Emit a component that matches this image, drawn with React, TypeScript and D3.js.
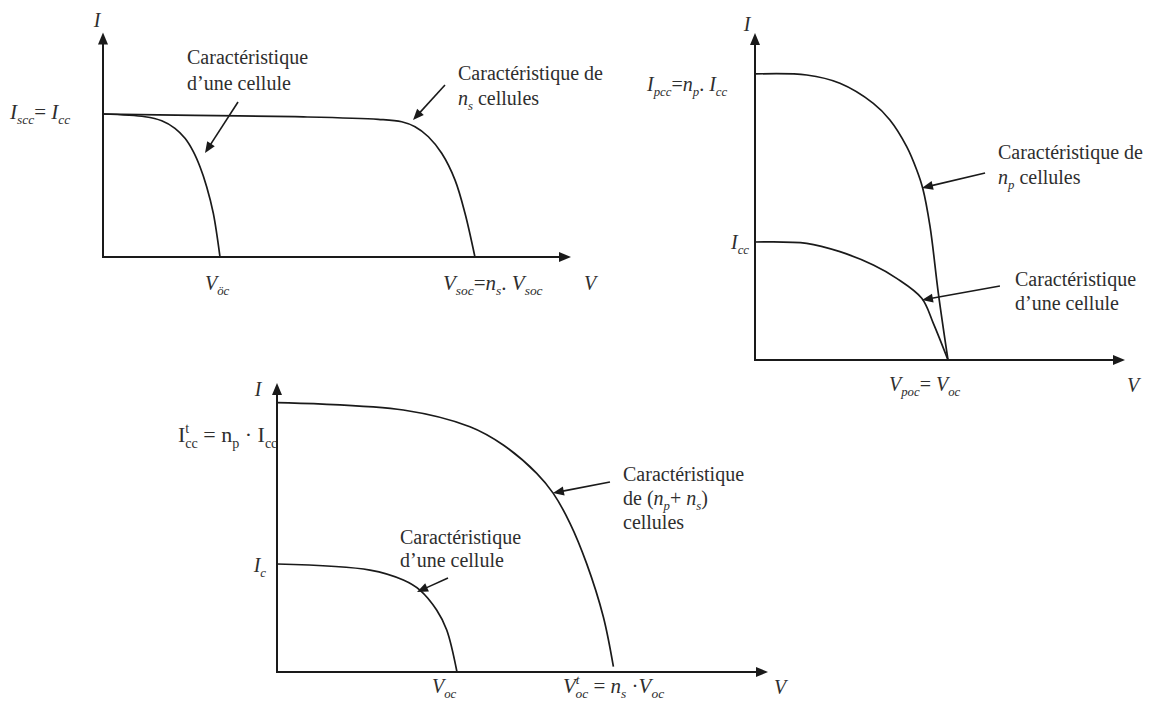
import React from 'react';
import * as d3 from 'd3';

type Pt = [number, number];

// I-V characteristics, voltage in units of Voc of one cell, current in units of Icc of one cell

// Cells in series (top left)
const seriesCell: Pt[] = [
  [0, 1.0], [0.359, 0.981], [0.502, 0.953], [0.615, 0.9], [0.701, 0.83],
  [0.772, 0.737], [0.829, 0.631], [0.886, 0.492], [0.943, 0.305], [1.0, 0.0],
];
const seriesString: Pt[] = [
  [0, 1.0], [0.786, 0.991], [1.641, 0.981], [2.353, 0.963], [2.553, 0.946],
  [2.667, 0.911], [2.781, 0.841], [2.895, 0.725], [3.009, 0.538], [3.094, 0.306], [3.179, 0.0],
];

// Cells in parallel (top right)
const parallelCell: Pt[] = [
  [0, 1.0], [0.268, 0.989], [0.44, 0.918], [0.613, 0.805], [0.734, 0.692],
  [0.864, 0.523], [0.924, 0.311], [1.0, 0.0],
];
const parallelBank: Pt[] = [
  [0, 2.424], [0.268, 2.415], [0.44, 2.345], [0.613, 2.175], [0.699, 2.034],
  [0.786, 1.808], [0.838, 1.61], [0.869, 1.455], [0.907, 1.13], [0.95, 0.565], [1.0, 0.0],
];

// Mixed series/parallel array (bottom)
const mixedCell: Pt[] = [
  [0, 1.0], [0.517, 0.944], [0.702, 0.852], [0.794, 0.759], [0.887, 0.574],
  [0.943, 0.389], [1.0, 0.0],
];
const mixedArray: Pt[] = [
  [0, 2.494], [0.702, 2.426], [1.072, 2.271], [1.257, 2.102], [1.443, 1.84],
  [1.535, 1.654], [1.628, 1.377], [1.72, 1.006], [1.813, 0.512], [1.869, 0.05],
];

// Pointer arrows for the captions: [from, to] in data units
const seriesPointers: [Pt, Pt][] = [
  [[1.154, 1.084], [0.872, 0.727]],
  [[2.923, 1.203], [2.65, 0.958]],
];
const parallelPointers: [Pt, Pt][] = [
  [[1.192, 1.585], [0.865, 1.458]],
  [[1.269, 0.627], [0.865, 0.508]],
];
const mixedPointers: [Pt, Pt][] = [
  [[1.85, 1.759], [1.533, 1.657]],
  [[0.95, 0.87], [0.778, 0.741]],
];

type Seg = { t: string; s?: 'sub' | 'sup'; i?: boolean; dx?: number };

const FONT = '"Liberation Serif", "Times New Roman", Times, serif';
const INK = '#1a1a1a';
const TXT = '#2e2e2e';

function Label({ x, y, segs, size = 20, anchor = 'start' }: {
  x: number; y: number; segs: Seg[]; size?: number; anchor?: string;
}) {
  let cur = 0;
  return (
    <text x={x} y={y} fontSize={size} fill={TXT} textAnchor={anchor}
      style={{ fontFamily: FONT }}>
      {segs.map((sg, k) => {
        const target = sg.s === 'sub' ? size * 0.26 : sg.s === 'sup' ? -size * 0.42 : 0;
        const dy = target - cur;
        cur = target;
        return (
          <tspan key={k} dy={dy} dx={sg.dx ?? 0}
            fontStyle={sg.i ? 'italic' : 'normal'}
            fontSize={sg.s ? size * 0.64 : size}>{sg.t}</tspan>
        );
      })}
    </text>
  );
}

function Caption({ x, y, lines, gap = 24 }: { x: number; y: number; lines: Seg[][]; gap?: number }) {
  return (
    <g>
      {lines.map((l, k) => <Label key={k} x={x} y={y + k * gap} segs={l} />)}
    </g>
  );
}

function Pointer({ from, to, len = 11, half = 4.5 }: { from: Pt; to: Pt; len?: number; half?: number }) {
  const dx = to[0] - from[0];
  const dy = to[1] - from[1];
  const d = Math.hypot(dx, dy);
  const ux = dx / d, uy = dy / d;
  const bx = to[0] - ux * len, by = to[1] - uy * len;
  const tri = `M${to[0]},${to[1]} L${bx - uy * half},${by + ux * half} L${bx + uy * half},${by - ux * half} Z`;
  return (
    <g>
      <line x1={from[0]} y1={from[1]} x2={bx + ux} y2={by + uy} stroke={INK} strokeWidth={1.6} />
      <path d={tri} fill={INK} />
    </g>
  );
}

type PanelProps = {
  xs: d3.ScaleLinear<number, number>;
  ys: d3.ScaleLinear<number, number>;
  curves: Pt[][];
  pointers: [Pt, Pt][];
};

function Panel({ xs, ys, curves, pointers }: PanelProps) {
  const line = d3.line<Pt>().x(d => xs(d[0])).y(d => ys(d[1])).curve(d3.curveCatmullRom.alpha(0.5));
  const x1 = xs.range()[1];
  const y1 = ys.range()[1];
  const ox = xs(0), oy = ys(0);
  return (
    <g>
      {curves.map((c, k) => (
        <path key={k} d={line(c) ?? ''} fill="none" stroke={INK} strokeWidth={1.7} />
      ))}
      {/* axes */}
      <line x1={ox} y1={oy} x2={x1 - 10} y2={oy} stroke={INK} strokeWidth={2} />
      <line x1={ox} y1={oy + 1} x2={ox} y2={y1 + 10} stroke={INK} strokeWidth={2} />
      <path d={`M${x1},${oy} L${x1 - 12},${oy - 5} L${x1 - 12},${oy + 5} Z`} fill={INK} />
      <path d={`M${ox},${y1} L${ox - 5},${y1 + 12} L${ox + 5},${y1 + 12} Z`} fill={INK} />
      {pointers.map((p, k) => (
        <Pointer key={k} from={[xs(p[0][0]), ys(p[0][1])]} to={[xs(p[1][0]), ys(p[1][1])]} />
      ))}
    </g>
  );
}

export default function App() {
  // layout of the three diagrams
  const x1 = d3.scaleLinear().domain([0, 4.0]).range([103, 571]);
  const y1 = d3.scaleLinear().domain([0, 1.57]).range([257, 32.5]);
  const x2 = d3.scaleLinear().domain([0, 1.917]).range([755, 1125]);
  const y2 = d3.scaleLinear().domain([0, 2.771]).range([360, 33]);
  const x3 = d3.scaleLinear().domain([0, 2.728]).range([277, 768]);
  const y3 = d3.scaleLinear().domain([0, 2.676]).range([672, 383]);

  const une: Seg[] = [{ t: 'd’une cellule' }];
  const carac: Seg[] = [{ t: 'Caractéristique' }];

  return (
    <svg width={1160} height={702} viewBox="0 0 1160 702"
      style={{ position: 'fixed', left: 0, top: 0, background: '#fff' }}>
      <rect width={1160} height={702} fill="#fff" />

      {/* Series association */}
      <Panel xs={x1} ys={y1} curves={[seriesString, seriesCell]} pointers={seriesPointers} />
      <Label x={97} y={27} anchor="middle" segs={[{ t: 'I', i: true }]} />
      <Label x={10} y={119} size={21} segs={[
        { t: 'I', i: true }, { t: 'scc', s: 'sub', i: true }, { t: '= ' },
        { t: 'I', i: true }, { t: 'cc', s: 'sub', i: true },
      ]} />
      <Label x={205} y={290} segs={[{ t: 'V', i: true }, { t: 'öc', s: 'sub', i: true }]} />
      <Label x={443} y={290} size={21} segs={[
        { t: 'V', i: true }, { t: 'soc', s: 'sub', i: true }, { t: '=' },
        { t: 'n', i: true }, { t: 's', s: 'sub', i: true }, { t: '. ' },
        { t: 'V', i: true }, { t: 'soc', s: 'sub', i: true },
      ]} />
      <Label x={584} y={290} segs={[{ t: 'V', i: true }]} />
      <Caption x={187} y={64} gap={26} lines={[carac, une]} />
      <Caption x={458} y={80} gap={25} lines={[
        [{ t: 'Caractéristique de' }],
        [{ t: 'n', i: true }, { t: 's', s: 'sub', i: true }, { t: ' cellules' }],
      ]} />

      {/* Parallel association */}
      <Panel xs={x2} ys={y2} curves={[parallelBank, parallelCell]} pointers={parallelPointers} />
      <Label x={747} y={31} anchor="middle" segs={[{ t: 'I', i: true }]} />
      <Label x={647} y={91} segs={[
        { t: 'I', i: true }, { t: 'pcc', s: 'sub', i: true }, { t: '=' },
        { t: 'n', i: true }, { t: 'p', s: 'sub', i: true }, { t: '. ' },
        { t: 'I', i: true }, { t: 'cc', s: 'sub', i: true },
      ]} />
      <Label x={749} y={249} anchor="end" segs={[{ t: 'I', i: true }, { t: 'cc', s: 'sub', i: true }]} />
      <Label x={889} y={391} segs={[
        { t: 'V', i: true }, { t: 'poc', s: 'sub', i: true }, { t: '= ' },
        { t: 'V', i: true }, { t: 'oc', s: 'sub', i: true },
      ]} />
      <Label x={1127} y={392} segs={[{ t: 'V', i: true }]} />
      <Caption x={998} y={159} gap={25} lines={[
        [{ t: 'Caractéristique de' }],
        [{ t: 'n', i: true }, { t: 'p', s: 'sub', i: true }, { t: ' cellules' }],
      ]} />
      <Caption x={1015} y={286} gap={24} lines={[carac, une]} />

      {/* Mixed association */}
      <Label x={178} y={442} size={22} segs={[
        { t: 'I' }, { t: 't', s: 'sup' }, { t: 'cc', s: 'sub', dx: -4 },
        { t: ' = n' }, { t: 'p', s: 'sub' }, { t: ' · I' }, { t: 'cc', s: 'sub' },
      ]} />
      <Panel xs={x3} ys={y3} curves={[mixedArray, mixedCell]} pointers={mixedPointers} />
      <Label x={258} y={396} anchor="middle" segs={[{ t: 'I', i: true }]} />
      <Label x={266} y={572} anchor="end" segs={[{ t: 'I', i: true }, { t: 'c', s: 'sub', i: true }]} />
      <Label x={432} y={693} segs={[{ t: 'V', i: true }, { t: 'oc', s: 'sub', i: true }]} />
      <Label x={563} y={693} size={21} segs={[
        { t: 'V', i: true }, { t: 't', s: 'sup', i: true }, { t: 'oc', s: 'sub', i: true, dx: -4 },
        { t: ' = ' }, { t: 'n', i: true }, { t: 's', s: 'sub', i: true }, { t: ' ·' },
        { t: 'V', i: true }, { t: 'oc', s: 'sub', i: true },
      ]} />
      <Label x={774} y={694} segs={[{ t: 'V', i: true }]} />
      <Caption x={623} y={481} gap={24} lines={[
        carac,
        [{ t: 'de (' }, { t: 'n', i: true }, { t: 'p', s: 'sub', i: true }, { t: '+ ' },
         { t: 'n', i: true }, { t: 's', s: 'sub', i: true }, { t: ')' }],
        [{ t: 'cellules' }],
      ]} />
      <Caption x={400} y={544} gap={23} lines={[carac, une]} />
    </svg>
  );
}
